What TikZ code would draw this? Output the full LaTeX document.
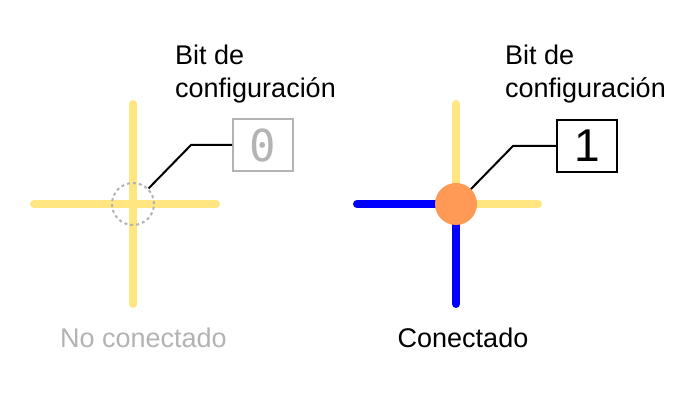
\documentclass[tikz,border=0pt]{standalone}
\usepackage{fontspec}
\setmainfont{Liberation Sans}
\newfontfamily\monofont{DejaVu Sans Mono}
\definecolor{wireY}{HTML}{FFE680}
\definecolor{wireB}{HTML}{0000FF}
\definecolor{dotO}{HTML}{FF9955}
\definecolor{greyT}{HTML}{B3B3B3}
\begin{document}
\begin{tikzpicture}[x=1pt,y=-1pt,
  wire/.style={line width=8pt,line cap=round},
  lead/.style={line width=2pt,black},
  label/.style={font=\fontsize{27}{33}\selectfont,anchor=base west,align=left,inner sep=0pt},
  bitbox/.style={draw,line width=2pt,minimum width=60pt,minimum height=52pt,inner sep=0pt}]
\useasboundingbox (0,0) rectangle (699,406);
% left crossing
\coordinate (lc) at (133,204);
\coordinate (lt) at (133,104);
\coordinate (lb) at (133,304);
\coordinate (ll) at (34,204);
\coordinate (lr) at (216,204);
\draw[wire,wireY] (lt) -- (lb);
\draw[wire,wireY] (ll) -- (lr);
\node[circle,draw=greyT,dashed,line width=2pt,minimum size=42pt,inner sep=0pt] (lcirc) at (lc) {};
\node[bitbox,draw=greyT,text=greyT,font=\fontsize{44}{44}\selectfont\monofont] (b0) at (263,145) {0};
\coordinate (lk) at (191,145);
\draw[lead] (lcirc.45) -- (lk) -- (b0.west);
\node[label] (t0) at (175,98) {Bit de\\configuración};
\node[font=\fontsize{27}{30}\selectfont,text=greyT,anchor=base,inner sep=0pt] (nc) at (143.5,347) {No conectado};
% right crossing
\coordinate (rc) at (456,204);
\coordinate (rt) at (456,104);
\coordinate (rb) at (456,304);
\coordinate (rl) at (357,204);
\coordinate (rr) at (538,204);
\draw[wire,wireY] (rc) -- (rt);
\draw[wire,wireY] (rc) -- (rr);
\draw[wire,wireB] (rc) -- (rl);
\draw[wire,wireB] (rc) -- (rb);
\node[circle,fill=dotO,minimum size=42pt,inner sep=0pt] (rdot) at (rc) {};
\node[bitbox,draw=black,font=\fontsize{46}{46}\selectfont] (b1) at (587,146) {1};
\coordinate (rk) at (513,146);
\draw[lead] (rdot.45) -- (rk) -- (b1.west);
\node[label] (t1) at (505,98) {Bit de\\configuración};
\node[font=\fontsize{27}{30}\selectfont,anchor=base,inner sep=0pt] (cn) at (463,347) {Conectado};
\end{tikzpicture}
\end{document}
